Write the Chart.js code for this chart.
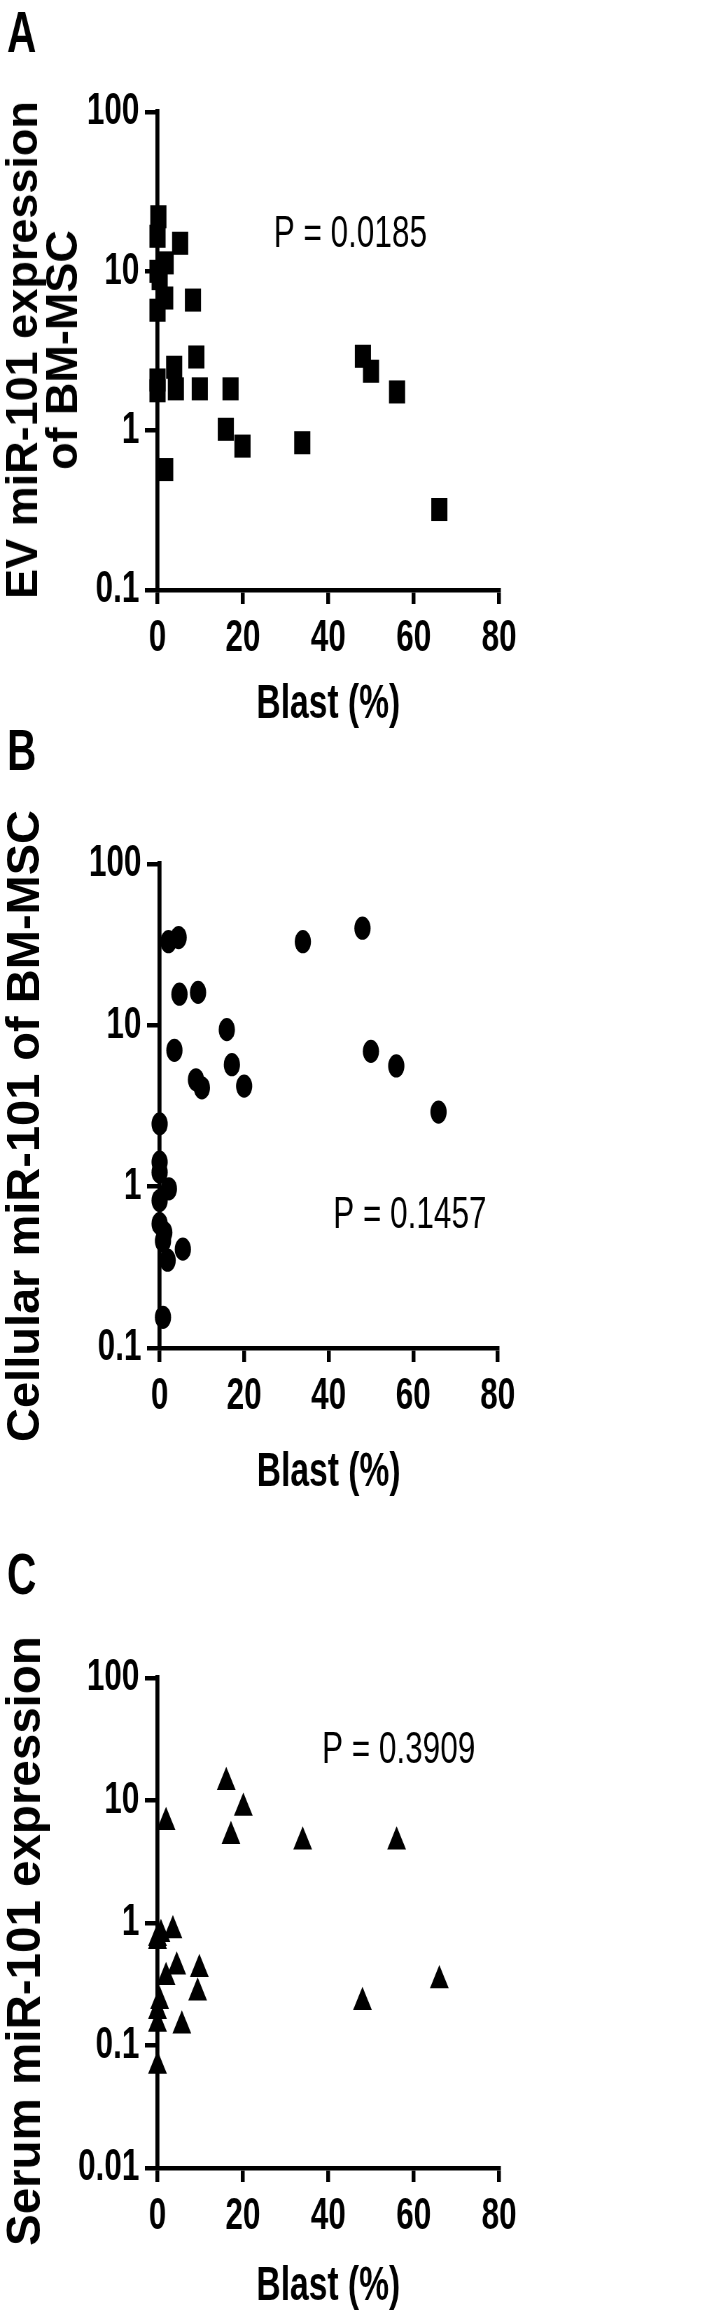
<!DOCTYPE html>
<html>
<head>
<meta charset="utf-8">
<script src="https://cdn.jsdelivr.net/npm/chart.js@4.4.0/dist/chart.umd.min.js"></script>
<style>
  html, body { margin: 0; padding: 0; background: #fff; }
  body { position: relative; width: 724px; height: 2319px; overflow: hidden; }
  /* the plots are drawn wide and squeezed sideways, like the original figure */
  canvas.panel { position: absolute; left: 0; transform-origin: 0 0; transform: scaleX(0.7); }
  .ytitle {
    position: absolute;
    font-family: "Liberation Sans", Arial, sans-serif;
    font-weight: bold;
    color: #000;
    white-space: nowrap;
    text-align: center;
    transform: translate(-50%, -50%) rotate(-90deg);
  }
</style>
</head>
<body>
<canvas id="chartA" class="panel"></canvas>
<canvas id="chartB" class="panel"></canvas>
<canvas id="chartC" class="panel"></canvas>

<div class="ytitle" style="left:42px; top:350px; font-size:45px; line-height:40px;">EV miR-101 expression<br>of BM-MSC</div>
<div class="ytitle" style="left:23px; top:1126px; font-size:47px; line-height:46px;">Cellular miR-101 of BM-MSC</div>
<div class="ytitle" style="left:24px; top:1941px; font-size:47.5px; line-height:46px;">Serum miR-101 expression</div>

<script>
// x axis (blast %) ticks, shared by all panels
const blastTicks = [0, 20, 40, 60, 80];

// y axis ticks
const yTicksAB = [0.1, 1, 10, 100];
const yTickLabelsAB = ['0.1', '1', '10', '100'];
const yTicksC = [0.01, 0.1, 1, 10, 100];
const yTickLabelsC = ['0.01', '0.1', '1', '10', '100'];

// Panel A: EV miR-101 expression of BM-MSC
const evBlast = [0.2, 0, 1.9, 0, 0.5, 1.8, 0, 5.3, 8.3, 9.1, 3.9, 0, 0, 4.3, 9.9, 17.1, 48.1, 50.0, 56.1, 16.0, 19.9, 33.9, 1.8, 66.0];
const evExpr = [22, 16.6, 11.3, 10, 9, 6.8, 5.7, 15, 6.6, 2.9, 2.5, 2.08, 1.78, 1.83, 1.83, 1.83, 2.93, 2.36, 1.75, 1.02, 0.80, 0.84, 0.57, 0.32];

// Panel B: cellular miR-101 of BM-MSC
const cellBlast = [2.1, 4.5, 33.9, 48.0, 4.7, 9.1, 15.9, 3.5, 17.1, 50.0, 56.0, 8.6, 10.0, 20.0, 66.0, 0, 0, 0, 2.2, 0, 0, 1.1, 0.8, 5.5, 1.9, 0.8];
const cellExpr = [33, 35, 33, 40, 15.6, 16, 9.4, 7.0, 5.7, 6.9, 5.6, 4.6, 4.1, 4.2, 2.9, 2.45, 1.42, 1.23, 0.97, 0.82, 0.59, 0.52, 0.46, 0.41, 0.35, 0.155];

// Panel C: serum miR-101 expression
const serumBlast = [16.1, 20.1, 2.0, 17.2, 34.0, 56.0, 0, 0.8, 0, 3.6, 4.5, 9.8, 2.0, 66.0, 9.4, 48.0, 5.7, 0.5, 0, 0, 0];
const serumExpr = [14.1, 8.7, 6.65, 5.1, 4.6, 4.6, 0.75, 0.81, 0.71, 0.87, 0.44, 0.42, 0.36, 0.34, 0.27, 0.225, 0.145, 0.23, 0.19, 0.15, 0.068];

const pValues = ['P = 0.0185', 'P = 0.1457', 'P = 0.3909'];

const FONT = '"Liberation Sans", Arial, sans-serif';
const CANVAS_W = 1034; // drawn wide, then squeezed to 724px by css

// panel letter + P value text
const panelText = {
    id: 'panelText',
    afterDraw(chart, args, opts) {
        const ctx = chart.ctx;
        ctx.save();
        ctx.fillStyle = '#000';
        ctx.textAlign = 'left';
        ctx.textBaseline = 'alphabetic';
        ctx.font = 'bold 58px ' + FONT;
        ctx.fillText(opts.letter, opts.letterX, opts.letterY);
        ctx.font = '45px ' + FONT;
        ctx.fillText(opts.pText, opts.pX, opts.pY);
        ctx.restore();
    }
};

function toPoints(xs, ys) {
    return xs.map((x, i) => ({ x: x, y: ys[i] }));
}

function makePanel(id, p) {
    const canvas = document.getElementById(id);
    canvas.width = CANVAS_W;
    canvas.height = p.height;
    canvas.style.width = CANVAS_W + 'px';
    canvas.style.height = p.height + 'px';
    canvas.style.top = p.top + 'px';

    new Chart(canvas.getContext('2d'), {
        type: 'scatter',
        data: {
            datasets: [{
                data: toPoints(p.xs, p.ys),
                pointStyle: p.pointStyle,
                pointRadius: p.radius,
                pointHoverRadius: p.radius,
                pointBackgroundColor: '#000',
                pointBorderColor: '#000',
                pointBorderWidth: 0,
                showLine: false,
                clip: false
            }]
        },
        options: {
            responsive: false,
            animation: false,
            devicePixelRatio: 1,
            layout: { padding: { left: 0, right: CANVAS_W - p.right, top: p.plotTop, bottom: 0 } },
            plugins: {
                legend: { display: false },
                tooltip: { enabled: false },
                panelText: {
                    letter: p.letter, letterX: 10, letterY: p.letterY,
                    pText: p.pText, pX: p.pX, pY: p.pY
                }
            },
            scales: {
                x: {
                    type: 'linear',
                    min: 0,
                    max: 80,
                    afterBuildTicks: s => { s.ticks = blastTicks.map(v => ({ value: v })); },
                    afterFit: s => { s.height = p.xHeight; },
                    border: { display: true, color: '#000', width: 4.5 },
                    grid: {
                        display: true, drawOnChartArea: false, drawTicks: true,
                        tickLength: 14, tickWidth: 5.5, lineWidth: 5.5,
                        tickColor: '#000', color: '#000'
                    },
                    ticks: {
                        color: '#000', padding: 8, maxRotation: 0, autoSkip: false,
                        font: { family: FONT, size: 45, weight: 'bold' }
                    },
                    title: {
                        display: true, text: 'Blast (%)', color: '#000',
                        font: { family: FONT, size: 48, weight: 'bold' },
                        padding: { top: 0, bottom: p.titlePad }
                    }
                },
                y: {
                    type: 'logarithmic',
                    min: p.yTicks[0],
                    max: p.yTicks[p.yTicks.length - 1],
                    afterBuildTicks: s => { s.ticks = p.yTicks.map(v => ({ value: v })); },
                    afterFit: s => { s.width = p.left; },
                    border: { display: true, color: '#000', width: 5.7 },
                    grid: {
                        display: true, drawOnChartArea: false, drawTicks: true,
                        tickLength: 18, tickWidth: 4.5, lineWidth: 4.5,
                        tickColor: '#000', color: '#000'
                    },
                    ticks: {
                        color: '#000', padding: 8, autoSkip: false,
                        font: { family: FONT, size: 45, weight: 'bold' },
                        callback: (v, i) => p.yLabels[i]
                    }
                }
            }
        },
        plugins: [panelText]
    });
}

makePanel('chartA', {
    top: 0, height: 745, plotTop: 112, xHeight: 155, titlePad: 11,
    left: 225, right: 713,
    xs: evBlast, ys: evExpr, pointStyle: 'rect', radius: 16.3,
    yTicks: yTicksAB, yLabels: yTickLabelsAB,
    letter: 'A', letterY: 52, pText: pValues[0], pX: 391, pY: 247
});

makePanel('chartB', {
    top: 725, height: 790, plotTop: 139, xHeight: 167, titlePad: 13,
    left: 228, right: 711,
    xs: cellBlast, ys: cellExpr, pointStyle: 'circle', radius: 11.6,
    yTicks: yTicksAB, yLabels: yTickLabelsAB,
    letter: 'B', letterY: 45, pText: pValues[1], pX: 476, pY: 503
});

makePanel('chartC', {
    top: 1540, height: 779, plotTop: 138, xHeight: 151, titlePad: 3,
    left: 225, right: 713,
    xs: serumBlast, ys: serumExpr, pointStyle: 'triangle', radius: 15.5,
    yTicks: yTicksC, yLabels: yTickLabelsC,
    letter: 'C', letterY: 54, pText: pValues[2], pX: 460, pY: 223
});
</script>
</body>
</html>
